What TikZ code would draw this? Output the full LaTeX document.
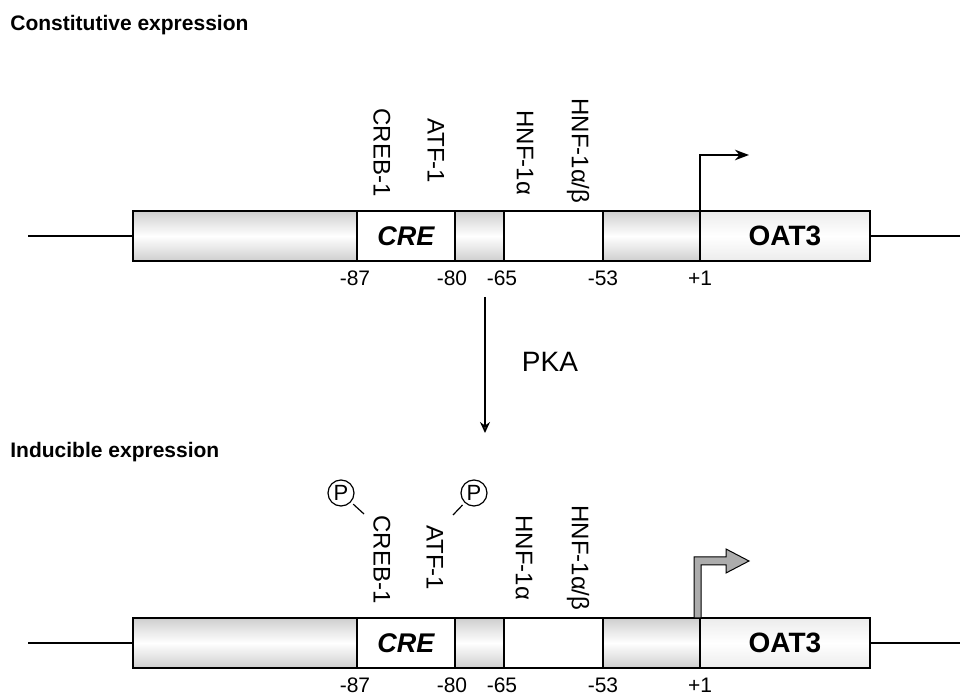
\documentclass[tikz,border=0pt]{standalone}
\usepackage{fontspec}
\setmainfont{Liberation Sans}
\usetikzlibrary{positioning,arrows.meta}

\begin{document}
\begin{tikzpicture}[x=0.5pt, y=-0.5pt,
  >=Stealth,
  seg/.style={draw, line width=1pt, inner sep=0pt, outer sep=0pt,
              minimum height=25pt, anchor=west},
  gseg/.style={seg, top color=gray!38, bottom color=gray!38, middle color=white},
  wseg/.style={seg, fill=white},
  cre/.style={wseg, font=\fontsize{13.5}{15}\selectfont\bfseries\itshape},
  oseg/.style={seg, top color=gray!15, bottom color=gray!15, middle color=white,
               font=\fontsize{14}{16}\selectfont\bfseries},
  dna/.style={line width=1pt},
  tf/.style={rotate=-90, anchor=west, inner sep=0pt, font=\fontsize{12}{14}\selectfont},
  numlb/.style={inner sep=0pt, font=\fontsize{10.5}{12}\selectfont},
  ttl/.style={anchor=west, inner sep=0pt, font=\fontsize{10.5}{12}\selectfont\bfseries},
  phos/.style={draw, circle, line width=0.6pt, minimum size=13pt, inner sep=0pt,
               font=\fontsize{11}{12}\selectfont}]

  \useasboundingbox (0,0) rectangle (960,695);

  % constitutive expression
  \node[ttl] (ttop) at (10,25) {Constitutive expression};

  \node[gseg, minimum width=112pt] (up1) at (133,236) {};
  \node[cre, minimum width=49pt, right=0pt of up1] (cre1) {CRE};
  \node[gseg, minimum width=24.5pt, right=0pt of cre1] (gap1) {};
  \node[wseg, minimum width=49.5pt, right=0pt of gap1] (hnf1) {};
  \node[gseg, minimum width=48.5pt, right=0pt of hnf1] (dn1) {};
  \node[oseg, minimum width=85pt, right=0pt of dn1] (oat1) {OAT3};

  \coordinate (l1) at (28,236);
  \coordinate (r1) at (960,236);
  \draw[dna] (l1) -- (up1);
  \draw[dna] (oat1) -- (r1);

  \node[tf] (creb1) at (382,108) {CREB-1};
  \node[tf] (atf1) at (436,118) {ATF-1};
  \node[tf] (hnfa1) at (525,110) {HNF-1α};
  \node[tf] (hnfab1) at (578,98) {HNF-1α/β};

  \coordinate (tss1) at (749,155);
  \draw[->, line width=0.9pt] (oat1.north west) |- (tss1);

  \node[numlb] (p87a) at (355,278) {-87};
  \node[numlb] (p80a) at (452,278) {-80};
  \node[numlb] (p65a) at (502,278) {-65};
  \node[numlb] (p53a) at (603,278) {-53};
  \node[numlb] (p1a) at (700,278) {+1};

  % PKA step
  \coordinate (k0) at (485,297);
  \coordinate (k1) at (485,433);
  \draw[-{Stealth[length=5.5pt, width=5pt, fill=gray]}, line width=0.8pt] (k0) -- (k1);
  \node[font=\fontsize{14}{16}\selectfont] (pka) at (550,362) {PKA};

  % inducible expression
  \node[ttl] (tbot) at (10,452) {Inducible expression};

  \node[gseg, minimum width=112pt] (up2) at (133,643) {};
  \node[cre, minimum width=49pt, right=0pt of up2] (cre2) {CRE};
  \node[gseg, minimum width=24.5pt, right=0pt of cre2] (gap2) {};
  \node[wseg, minimum width=49.5pt, right=0pt of gap2] (hnf2) {};
  \node[gseg, minimum width=48.5pt, right=0pt of hnf2] (dn2) {};
  \node[oseg, minimum width=85pt, right=0pt of dn2] (oat2) {OAT3};

  \coordinate (l2) at (28,643);
  \coordinate (r2) at (960,643);
  \draw[dna] (l2) -- (up2);
  \draw[dna] (oat2) -- (r2);

  \node[tf] (creb2) at (382,515) {CREB-1};
  \node[tf] (atf2) at (435,525) {ATF-1};
  \node[tf] (hnfa2) at (524,515) {HNF-1α};
  \node[tf] (hnfab2) at (578,505) {HNF-1α/β};

  \node[phos] (ph1) at (341,493) {P};
  \node[phos] (ph2) at (474,493) {P};
  \coordinate (pe1) at (364,514);
  \coordinate (pe2) at (453,515);
  \draw[line width=0.6pt, shorten <=1.5pt] (ph1) -- (pe1);
  \draw[line width=0.6pt, shorten <=1.5pt] (ph2) -- (pe2);

  % strong start arrow
  \filldraw[fill=gray!65, line width=0.5pt]
    (oat2.north west) ++(-6,0) -- ++(0,-61) -- ++(32,0) -- ++(0,-8)
    -- ++(23,12) -- ++(-23,12) -- ++(0,-8) -- ++(-25,0) |- (oat2.north west) -- cycle;

  \node[numlb] (p87b) at (355,685) {-87};
  \node[numlb] (p80b) at (452,685) {-80};
  \node[numlb] (p65b) at (502,685) {-65};
  \node[numlb] (p53b) at (603,685) {-53};
  \node[numlb] (p1b) at (700,685) {+1};
\end{tikzpicture}
\end{document}
